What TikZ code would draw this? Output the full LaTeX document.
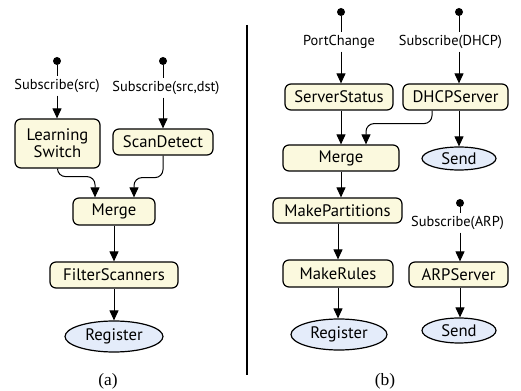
\documentclass[tikz,border=0pt]{standalone}
\usepackage{fontspec}
\setmainfont{Liberation Serif}
\newfontfamily\diagfont{PT Sans}
\usetikzlibrary{shapes.geometric,arrows.meta,calc}
\definecolor{boxfill}{RGB}{251,249,222}
\definecolor{ellfill}{RGB}{228,236,250}
\begin{document}
\begin{tikzpicture}[x=0.75pt,y=-0.75pt,
  boxsz/.style 2 args={minimum width=#1*0.75pt, minimum height=#2*0.75pt},
  proc/.style={draw, line width=0.9pt, rounded corners=4.5pt, fill=boxfill,
    font=\diagfont\fontsize{12.5}{13}\selectfont, inner sep=0pt},
  term/.style={draw, line width=0.9pt, ellipse, fill=ellfill,
    font=\diagfont\fontsize{12.5}{13}\selectfont, inner sep=0pt},
  lbl/.style={font=\diagfont\fontsize{10.8}{12}\selectfont, inner sep=2pt},
  srcdot/.style={circle, fill=black, minimum size=6pt, inner sep=0pt},
  arr/.style={line width=0.75pt, -{Triangle[length=7.5pt,width=6.75pt]}},
  ln/.style={line width=0.75pt}]
\useasboundingbox (0,0) rectangle (521,391);

% ---------- panel (a) ----------
\node[srcdot] (da1) at (57,61) {};
\node[srcdot] (da2) at (163,61) {};
\node[lbl] (la1) at (57,86) {Subscribe(src)};
\node[lbl] (la2) at (166,88) {Subscribe(src,dst)};
\node[proc, boxsz={85}{49}, align=center] (ls) at (57.5,143.5) {Learning\\Switch};
\node[proc, boxsz={100}{26}] (sd) at (163,142) {ScanDetect};
\node[proc, boxsz={82}{27}] (mergea) at (114,211.5) {Merge};
\node[proc, boxsz={128}{26}] (fs) at (114,275) {FilterScanners};
\node[term, boxsz={98}{31}] (rega) at (114,336.5) {Register};

\draw[ln] (da1) -- (da1 |- la1.north);
\draw[arr] (da1 |- la1.south) -- (da1 |- ls.north);
\draw[ln] (da2) -- (da2 |- la2.north);
\draw[arr] (da2 |- la2.south) -- (da2 |- sd.north);
\draw[arr, rounded corners=6pt] (ls.south) -- ++(0,8) -| ($(mergea.north)+(-19,0)$);
\draw[arr, rounded corners=6pt] (sd.south) -- ++(0,22) -| ($(mergea.north)+(20,0)$);
\draw[arr] (mergea) -- (fs);
\draw[arr] (fs) -- (rega);

% divider
\draw[line width=1pt] (247,25) -- (247,375);

% ---------- panel (b) ----------
\node[srcdot] (db1) at (341,12) {};
\node[srcdot] (db2) at (459,12) {};
\node[srcdot] (db3) at (460,203) {};
\node[lbl] (lb1) at (339,42) {PortChange};
\node[lbl] (lb2) at (450.5,42) {Subscribe(DHCP)};
\node[lbl] (lb3) at (457.5,223) {Subscribe(ARP)};
\node[proc, boxsz={108}{26}] (ss) at (339,97) {ServerStatus};
\node[proc, boxsz={105}{26}] (dhcp) at (455.5,97) {DHCPServer};
\node[proc, boxsz={116}{26}] (mergeb) at (341,158) {Merge};
\node[term, boxsz={74}{23}] (sendt) at (459,158.5) {Send};
\node[proc, boxsz={129}{25}] (mp) at (337.5,210.5) {MakePartitions};
\node[proc, boxsz={110}{27}] (mr) at (338,273.5) {MakeRules};
\node[term, boxsz={96}{31}] (regb) at (339,334.5) {Register};
\node[proc, boxsz={99}{25}] (arp) at (458.5,274.5) {ARPServer};
\node[term, boxsz={74}{25}] (sendb) at (459,330.5) {Send};

\draw[ln] (db1) -- (db1 |- lb1.north);
\draw[arr] (db1 |- lb1.south) -- (db1 |- ss.north);
\draw[ln] (db2) -- (db2 |- lb2.north);
\draw[arr] (db2 |- lb2.south) -- (db2 |- dhcp.north);
\draw[ln] (db3) -- (db3 |- lb3.north);
\draw[arr] (db3 |- lb3.south) -- (db3 |- arp.north);
\draw[arr] (db1 |- ss.south) -- (db1 |- mergeb.north);
\draw[arr, rounded corners=6pt] ($(dhcp.south)+(-23.5,0)$) -- ++(0,13) -| ($(mergeb.north)+(25,0)$);
\draw[arr] (db2 |- dhcp.south) -- (db2 |- sendt.north);
\draw[arr] (db1 |- mergeb.south) -- (db1 |- mp.north);
\draw[arr] (mr.north |- mp.south) -- (mr.north);
\draw[arr] (mr.south) -- (mr.south |- regb.north);
\draw[arr] (db3 |- arp.south) -- (db3 |- sendb.north);

% captions
\node[font=\fontsize{13}{15}\selectfont] (capa) at (108,381) {(a)};
\node[font=\fontsize{13}{15}\selectfont] (capb) at (385,381) {(b)};
\end{tikzpicture}
\end{document}
